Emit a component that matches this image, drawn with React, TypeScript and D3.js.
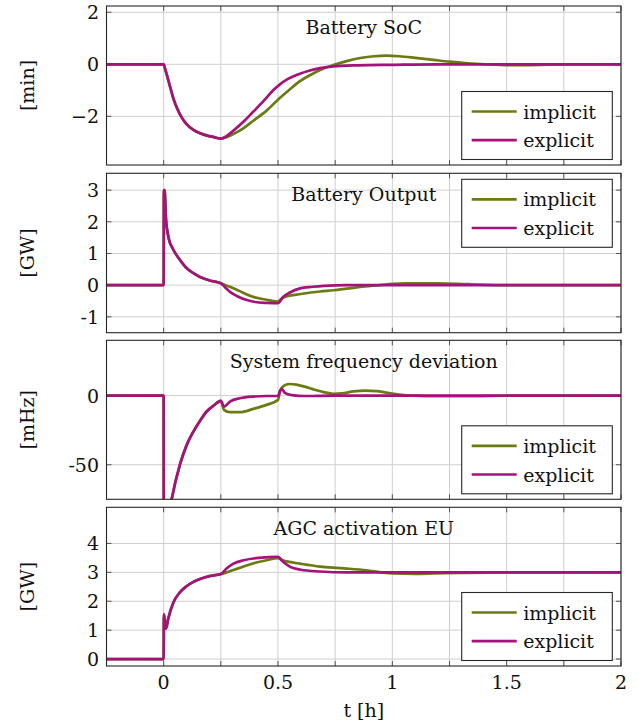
import React from "react";
import * as d3 from "d3";

type P = [number, number];

const X_DOMAIN: [number, number] = [-0.25, 2];
const X_TICKS = [0, 0.5, 1, 1.5, 2];
const X_GRID = [-0.25, 0, 0.25, 0.5, 0.75, 1, 1.25, 1.5, 1.75, 2];
const X_LABEL = "t [h]";
const SERIES_NAMES = ["implicit", "explicit"];
const COLORS = ["#6b7b12", "#a5127a"];

// Panel 1: Battery SoC [min]
const SOC_COMMON: P[] = [
  [-0.25, 0], [0, 0], [0.006, -0.17], [0.013, -0.38], [0.028, -0.86], [0.042, -1.3],
  [0.06, -1.72], [0.08, -2.06], [0.1, -2.3], [0.13, -2.52], [0.159, -2.65], [0.19, -2.74], [0.22, -2.8], [0.25, -2.86],
];
const SOC_IMPLICIT: P[] = [
  ...SOC_COMMON,
  [0.275, -2.8], [0.305, -2.68], [0.35, -2.45], [0.392, -2.17], [0.45, -1.78], [0.5, -1.36],
  [0.55, -0.98], [0.596, -0.65], [0.64, -0.42], [0.684, -0.22], [0.742, -0.03], [0.8, 0.12],
  [0.86, 0.24], [0.92, 0.31], [0.975, 0.33], [1.03, 0.31], [1.1, 0.25], [1.18, 0.17], [1.25, 0.1],
  [1.33, 0.04], [1.41, 0.0], [1.5, -0.03], [1.6, -0.03], [1.75, 0], [2, 0],
];
const SOC_EXPLICIT: P[] = [
  ...SOC_COMMON,
  [0.275, -2.76], [0.305, -2.55], [0.35, -2.2], [0.392, -1.82], [0.44, -1.38], [0.48, -0.99],
  [0.51, -0.76], [0.54, -0.58], [0.596, -0.36], [0.64, -0.24], [0.684, -0.15], [0.742, -0.08],
  [0.85, -0.04], [1.0, -0.02], [1.2, 0], [2, 0],
];
const SOC_TICKS = [-2, 0, 2];
const SOC_TICK_LABELS = ["\u22122", "0", "2"];

// Panel 2: Battery Output [GW]
const OUT_COMMON: P[] = [
  [-0.25, 0], [0, 0], [0.001, 3.0], [0.004, 3.0], [0.01, 2.1], [0.02, 1.55], [0.027, 1.34],
  [0.035, 1.22], [0.05, 1.02], [0.075, 0.76], [0.1, 0.54], [0.13, 0.38], [0.159, 0.26], [0.2, 0.15], [0.25, 0.06],
];
const OUT_IMPLICIT: P[] = [
  ...OUT_COMMON,
  [0.27, 0.0], [0.29, -0.05], [0.33, -0.18], [0.392, -0.37], [0.45, -0.46], [0.5, -0.52],
  [0.515, -0.42], [0.54, -0.35], [0.6, -0.28], [0.684, -0.2], [0.742, -0.16], [0.8, -0.11],
  [0.88, -0.04], [0.946, 0.0], [1.0, 0.04], [1.06, 0.06], [1.2, 0.06], [1.33, 0.03], [1.5, 0.0], [2, 0],
];
const OUT_EXPLICIT: P[] = [
  ...OUT_COMMON,
  [0.27, -0.08], [0.29, -0.21], [0.32, -0.34], [0.363, -0.47], [0.4, -0.53], [0.45, -0.56],
  [0.5, -0.57], [0.51, -0.5], [0.523, -0.37], [0.55, -0.24], [0.596, -0.1], [0.65, -0.05],
  [0.7, -0.02], [0.8, 0], [2, 0],
];
const OUT_TICKS = [-1, 0, 1, 2, 3];
const OUT_TICK_LABELS = ["-1", "0", "1", "2", "3"];

// Panel 3: System frequency deviation [mHz]
const FREQ_COMMON: P[] = [
  [-0.25, 0], [0, 0], [0.0005, -110], [0.01, -99], [0.035, -75], [0.071, -50], [0.1, -36],
  [0.13, -26], [0.16, -18], [0.188, -11.5], [0.22, -7], [0.25, -3.8],
];
const FREQ_IMPLICIT: P[] = [
  ...FREQ_COMMON,
  [0.264, -10.3], [0.29, -12], [0.334, -12], [0.392, -9.6], [0.45, -6.7], [0.5, -3.1],
  [0.51, 4], [0.525, 7], [0.55, 8.4], [0.58, 8], [0.62, 6.3], [0.66, 4.2], [0.7, 2.5],
  [0.742, 1.3], [0.78, 1.6], [0.83, 3.0], [0.88, 3.6], [0.93, 3.3], [0.98, 2.0], [1.03, 0.8],
  [1.09, 0], [1.2, -0.4], [1.35, -0.4], [1.5, -0.1], [1.6, 0], [2, 0],
];
const FREQ_EXPLICIT: P[] = [
  ...FREQ_COMMON,
  [0.264, -7.9], [0.29, -4.3], [0.334, -1.9], [0.39, -0.7], [0.45, -0.3], [0.5, -0.3],
  [0.508, 3], [0.516, 4.8], [0.53, 2], [0.56, 0.4], [0.62, -0.3], [0.75, 0], [2, 0],
];
const FREQ_TICKS = [-50, 0];
const FREQ_TICK_LABELS = ["-50", "0"];

// Panel 4: AGC activation EU [GW]
const AGC_COMMON: P[] = [
  [-0.25, 0], [0, 0], [0.001, 1.55], [0.01, 1.05], [0.02, 1.4], [0.042, 1.95], [0.07, 2.3],
  [0.1, 2.52], [0.13, 2.67], [0.159, 2.77], [0.2, 2.87], [0.25, 2.94],
];
const AGC_IMPLICIT: P[] = [
  ...AGC_COMMON,
  [0.275, 3.0], [0.305, 3.08], [0.35, 3.2], [0.392, 3.31], [0.45, 3.42], [0.5, 3.49],
  [0.52, 3.42], [0.55, 3.36], [0.596, 3.3], [0.684, 3.2], [0.742, 3.16], [0.8, 3.13],
  [0.888, 3.07], [0.95, 3.0], [1.0, 2.96], [1.1, 2.95], [1.18, 2.96], [1.3, 2.98], [1.5, 3.0], [2, 3.0],
];
const AGC_EXPLICIT: P[] = [
  ...AGC_COMMON,
  [0.275, 3.13], [0.305, 3.3], [0.35, 3.42], [0.392, 3.48], [0.45, 3.52], [0.5, 3.54],
  [0.52, 3.38], [0.553, 3.19], [0.6, 3.09], [0.684, 3.03], [0.8, 3.0], [2, 3.0],
];
const AGC_TICKS = [0, 1, 2, 3, 4];
const AGC_TICK_LABELS = ["0", "1", "2", "3", "4"];

const TITLES = ["Battery SoC", "Battery Output", "System frequency deviation", "AGC activation EU"];
const Y_LABELS = ["[min]", "[GW]", "[mHz]", "[GW]"];
const Y_DOMAINS: [number, number][] = [[-3.87, 2.24], [-1.5, 3.53], [-75, 40], [-0.24, 5.25]];

const FONT = "'DejaVu Serif', serif";
const FS = 19;

const LEFT = 106.5;
const RIGHT = 621;
const PANEL_TOPS = [6, 173.3, 340.3, 507.3];
const PANEL_BOTTOMS = [165, 332.7, 499.3, 666];
const LEGEND_POS = ["bottom", "top", "bottom", "bottom"];

const panels = [
  { series: [SOC_IMPLICIT, SOC_EXPLICIT], ticks: SOC_TICKS, labels: SOC_TICK_LABELS },
  { series: [OUT_IMPLICIT, OUT_EXPLICIT], ticks: OUT_TICKS, labels: OUT_TICK_LABELS },
  { series: [FREQ_IMPLICIT, FREQ_EXPLICIT], ticks: FREQ_TICKS, labels: FREQ_TICK_LABELS },
  { series: [AGC_IMPLICIT, AGC_EXPLICIT], ticks: AGC_TICKS, labels: AGC_TICK_LABELS },
];

export default function App() {
  const x = d3.scaleLinear().domain(X_DOMAIN).range([LEFT, RIGHT]);
  const legW = 150.6;
  const legH = 68;
  return (
    <svg width={637} height={726} style={{ position: "absolute", left: 0, top: 0, background: "#fff" }}
      fontFamily={FONT}>
      <defs>
        {panels.map((_, i) => (
          <clipPath id={`clip${i}`} key={i}>
            <rect x={LEFT} y={PANEL_TOPS[i]} width={RIGHT - LEFT} height={PANEL_BOTTOMS[i] - PANEL_TOPS[i]} />
          </clipPath>
        ))}
      </defs>
      {panels.map((p, i) => {
        const top = PANEL_TOPS[i];
        const bot = PANEL_BOTTOMS[i];
        const y = d3.scaleLinear().domain(Y_DOMAINS[i]).range([bot, top]);
        const line = d3.line<P>().x((d) => x(d[0])).y((d) => y(d[1])).curve(d3.curveMonotoneX);
        const lx = RIGHT - 8.7 - legW;
        const ly = LEGEND_POS[i] === "top" ? top + 6 : bot - 5.5 - legH;
        return (
          <g key={i}>
            {X_GRID.map((g, k) => (
              <line key={"vx" + k} x1={x(g)} x2={x(g)} y1={top} y2={bot} stroke="#cfcfcf" strokeWidth={1} />
            ))}
            {p.ticks.map((t, k) => (
              <line key={"hy" + k} x1={LEFT} x2={RIGHT} y1={y(t)} y2={y(t)} stroke="#cfcfcf" strokeWidth={1} />
            ))}
            {X_GRID.map((g, k) => (
              <g key={"tx" + k} stroke="#555" strokeWidth={1}>
                <line x1={x(g)} x2={x(g)} y1={top} y2={top + 5} />
                <line x1={x(g)} x2={x(g)} y1={bot} y2={bot - 5} />
              </g>
            ))}
            {p.ticks.map((t, k) => (
              <g key={"ty" + k} stroke="#555" strokeWidth={1}>
                <line x1={LEFT} x2={LEFT + 5} y1={y(t)} y2={y(t)} />
                <line x1={RIGHT} x2={RIGHT - 5} y1={y(t)} y2={y(t)} />
              </g>
            ))}
            <g clipPath={`url(#clip${i})`}>
              {p.series.map((s, k) => (
                <path key={k} d={line(s) || ""} fill="none" stroke={COLORS[k]} strokeWidth={2.7}
                  strokeLinejoin="round" />
              ))}
            </g>
            <rect x={LEFT} y={top} width={RIGHT - LEFT} height={bot - top} fill="none" stroke="#262626" strokeWidth={1.1} />
            <text x={(LEFT + RIGHT) / 2} y={top + 28} textAnchor="middle" fontSize={FS} fill="#111">
              {TITLES[i]}
            </text>
            {p.ticks.map((t, k) => (
              <text key={"yl" + k} x={99} y={y(t)} textAnchor="end" dominantBaseline="central" fontSize={FS} fill="#111">
                {p.labels[k]}
              </text>
            ))}
            <text transform={`translate(27,${(top + bot) / 2}) rotate(-90)`} textAnchor="middle"
              dominantBaseline="central" fontSize={FS} fill="#111">
              {Y_LABELS[i]}
            </text>
            <g>
              <rect x={lx} y={ly} width={legW} height={legH} fill="#fff" stroke="#262626" strokeWidth={1.1} />
              {SERIES_NAMES.map((n, k) => {
                const yy = ly + 20 + k * 28.7;
                return (
                  <g key={n}>
                    <line x1={lx + 10} x2={lx + 55} y1={yy} y2={yy} stroke={COLORS[k]} strokeWidth={2.7} />
                    <text x={lx + 61.5} y={yy} dominantBaseline="central" fontSize={FS} fill="#111">{n}</text>
                  </g>
                );
              })}
            </g>
          </g>
        );
      })}
      {X_TICKS.map((t, k) => (
        <text key={"xl" + k} x={x(t)} y={688.5} textAnchor="middle" fontSize={FS} fill="#111">
          {String(t)}
        </text>
      ))}
      <text x={(LEFT + RIGHT) / 2} y={717} textAnchor="middle" fontSize={FS} fill="#111">{X_LABEL}</text>
    </svg>
  );
}
